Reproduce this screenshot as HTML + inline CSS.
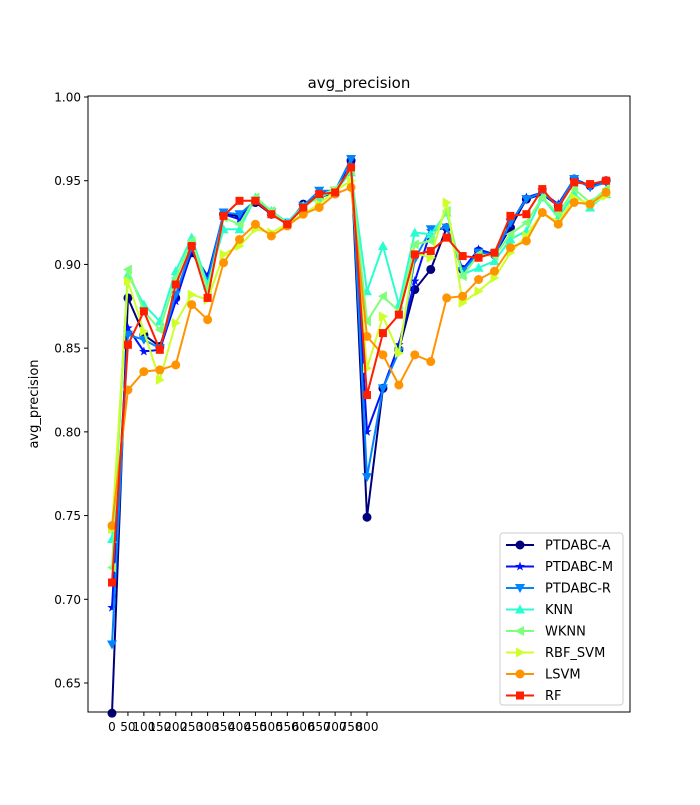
<!DOCTYPE html>
<html><head><meta charset="utf-8"><style>
body{margin:0;background:#fff;font-family:"Liberation Sans","DejaVu Sans",sans-serif}
svg text{font-family:"DejaVu Sans","Liberation Sans",sans-serif}
</style></head><body>
<svg id="chart" width="700" height="800" xmlns="http://www.w3.org/2000/svg">
<rect width="700" height="800" fill="#fff"/>
<text x="359" y="88" font-size="15" text-anchor="middle">avg_precision</text>
<text transform="translate(38,404) rotate(-90)" font-size="13" text-anchor="middle">avg_precision</text>
<g id="ticks"></g><g id="series"></g>
<rect x="88" y="96" width="542" height="616" fill="none" stroke="#000" stroke-width="1"/>
<g id="legend"></g>
</svg>
<script>
const names=["PTDABC-A","PTDABC-M","PTDABC-R","KNN","WKNN","RBF_SVM","LSVM","RF"];
const xValues=[0,50,100,150,200,250,300,350,400,450,500,550,600,650,700,750,800,850,900,950,1000,1050,1100,1150,1200,1250,1300,1350,1400,1450,1500,1550];
const xTickLabels=[0,50,100,150,200,250,300,350,400,450,500,550,600,650,700,750,800];
const yTickLabels=[0.65,0.70,0.75,0.80,0.85,0.90,0.95,1.00];
const sA=[0.632,0.880,0.858,0.851,0.880,0.907,0.892,0.930,0.929,0.937,0.930,0.924,0.936,0.940,0.943,0.962,0.749,0.826,0.849,0.885,0.897,0.922,0.897,0.908,0.906,0.922,0.939,0.942,0.935,0.951,0.947,0.950];
const sM=[0.695,0.862,0.848,0.849,0.878,0.908,0.893,0.930,0.927,0.938,0.930,0.925,0.935,0.943,0.943,0.962,0.800,0.826,0.852,0.890,0.920,0.922,0.897,0.909,0.906,0.924,0.940,0.943,0.936,0.951,0.947,0.950];
const sR=[0.673,0.858,0.855,0.850,0.882,0.910,0.890,0.931,0.930,0.938,0.931,0.925,0.935,0.944,0.944,0.963,0.773,0.826,0.848,0.903,0.921,0.922,0.896,0.907,0.906,0.925,0.939,0.943,0.935,0.951,0.946,0.949];
const sKNN=[0.736,0.894,0.876,0.866,0.896,0.916,0.888,0.921,0.921,0.940,0.932,0.925,0.935,0.940,0.944,0.955,0.884,0.911,0.876,0.919,0.918,0.931,0.894,0.898,0.902,0.915,0.920,0.940,0.928,0.942,0.934,0.942];
const sWKNN=[0.719,0.897,0.872,0.861,0.892,0.914,0.885,0.928,0.924,0.940,0.932,0.924,0.934,0.941,0.945,0.956,0.866,0.881,0.872,0.912,0.914,0.932,0.893,0.906,0.905,0.918,0.925,0.940,0.930,0.945,0.937,0.945];
const sRBF=[0.742,0.890,0.860,0.831,0.865,0.882,0.879,0.906,0.911,0.921,0.919,0.924,0.930,0.936,0.944,0.950,0.838,0.869,0.847,0.907,0.904,0.937,0.877,0.884,0.892,0.907,0.917,0.931,0.925,0.940,0.936,0.941];
const sLSVM=[0.744,0.825,0.836,0.837,0.840,0.876,0.867,0.901,0.915,0.924,0.917,0.923,0.930,0.934,0.942,0.946,0.857,0.846,0.828,0.846,0.842,0.880,0.881,0.891,0.896,0.910,0.914,0.931,0.924,0.937,0.936,0.943];
const sRF=[0.710,0.852,0.872,0.849,0.888,0.911,0.880,0.929,0.938,0.938,0.930,0.924,0.934,0.942,0.943,0.958,0.822,0.859,0.870,0.906,0.908,0.916,0.905,0.904,0.907,0.929,0.930,0.945,0.934,0.949,0.948,0.950];
const allSeries=[sA,sM,sR,sKNN,sWKNN,sRBF,sLSVM,sRF];
const colors=["#00007f","#0010ff","#0084ff","#29ffce","#7dff7a","#ceff29","#ff9400","#ff1e00"];
const markers=["o","*","v","^","<",">","o","s"];
const NS="http://www.w3.org/2000/svg";
const X=v=>112+(v-0)*(367-112)/800;
const Y=v=>683-(v-0.65)*(683-97)/0.35;
function mk(t,a,p){const e=document.createElementNS(NS,t);for(const k in a)e.setAttribute(k,a[k]);p.appendChild(e);return e;}
const tg=document.getElementById('ticks');
xTickLabels.forEach(v=>{const x=X(v);
 const l=mk('line',{x1:x,x2:x,y1:712,y2:716,stroke:'#000'},tg);
 
 
 const t=mk('text',{x:x,y:731,'font-size':12,'text-anchor':'middle'},tg);t.textContent=v;
 
 });
yTickLabels.forEach(v=>{const y=Y(v);
 const l=mk('line',{x1:84,x2:88,y1:y,y2:y,stroke:'#000'},tg);
 
 
 const t=mk('text',{x:81,y:y+4.5,'font-size':12,'text-anchor':'end'},tg);t.textContent=v.toFixed(2);
 
 });
function marker(m,x,y,c,p){let e;const r=4.5;
 if(m==="o")e=mk('circle',{cx:x,cy:y,r:r,fill:c},p);
 else if(m==="s")e=mk('rect',{x:x-4,y:y-4,width:8,height:8,fill:c},p);
 else{let pts;
  if(m==="v")pts=[[x-5,y-4],[x+5,y-4],[x,y+5]];
  else if(m==="^")pts=[[x-5,y+4],[x+5,y+4],[x,y-5]];
  else if(m==="<")pts=[[x+4,y-5],[x+4,y+5],[x-5,y]];
  else if(m===">")pts=[[x-4,y-5],[x-4,y+5],[x+5,y]];
  else{pts=[];for(let i=0;i<10;i++){const a=-Math.PI/2+i*Math.PI/5,rr=i%2?2:5;pts.push([x+rr*Math.cos(a),y+rr*Math.sin(a)]);}}
  e=mk('polygon',{points:pts.map(p=>p.join(',')).join(' '),fill:c},p);}
 return e;}
const sg=document.getElementById('series');
allSeries.forEach((s,i)=>{const g=mk('g',{},sg);
 
 
 const l=mk('polyline',{points:s.map((v,j)=>X(xValues[j])+','+Y(v)).join(' '),fill:'none',stroke:colors[i],'stroke-width':2},g);
 
 
 s.forEach((v,j)=>{const m=marker(markers[i],X(xValues[j]),Y(v),colors[i],g);
  
  });});
const lg=document.getElementById('legend');
const box=mk('rect',{x:500,y:533,width:123,height:172,rx:3,fill:'#fff','fill-opacity':0.8,stroke:'#ccc'},lg);


names.forEach((n,i)=>{const y=545+i*21.5;const g=mk('g',{},lg);
 
 
 mk('line',{x1:506,x2:534,y1:y,y2:y,stroke:colors[i],'stroke-width':2},g);
 marker(markers[i],520,y,colors[i],g);
 const t=mk('text',{x:545,y:y+4.5,'font-size':13},g);t.textContent=n;});
</script>
</body></html>
